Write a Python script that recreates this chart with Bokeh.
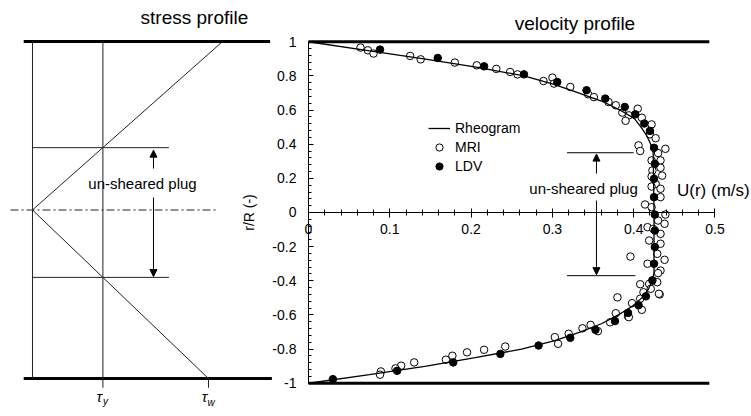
from bokeh.plotting import figure
from bokeh.models import (Range1d, LinearAxis, SingleIntervalTicker, CustomJSTickFormatter,
                          Label, Arrow, NormalHead, Legend, LegendItem)
from bokeh.embed import file_html
from bokeh.resources import INLINE

FONT = "Liberation Sans"

# ---------------- velocity profile data ----------------
rheo_r = [1.0, 0.95, 0.9, 0.85, 0.8, 0.75, 0.7, 0.65, 0.6, 0.55, 0.5, 0.45, 0.4, 0.35, 0.0,
          -0.35, -0.4, -0.45, -0.5, -0.55, -0.6, -0.65, -0.7, -0.75, -0.8, -0.85, -0.9, -0.95, -1.0]
rheo_u = [0.0, 0.071, 0.142, 0.208, 0.265, 0.302, 0.332, 0.362, 0.383, 0.401, 0.409, 0.416, 0.421, 0.424, 0.425,
          0.425, 0.423, 0.418, 0.410, 0.398, 0.381, 0.361, 0.334, 0.303, 0.262, 0.205, 0.145, 0.075, 0.0]

mri_u = [0.064, 0.073, 0.080, 0.125, 0.138, 0.180, 0.207, 0.231, 0.248, 0.257, 0.289, 0.300, 0.302,
         0.322, 0.344, 0.351, 0.369, 0.378, 0.386, 0.394, 0.405, 0.410, 0.390, 0.422, 0.420, 0.427,
         0.406, 0.408, 0.439, 0.430, 0.422, 0.433, 0.433, 0.423, 0.435, 0.422, 0.427, 0.433, 0.422,
         0.433, 0.414, 0.422, 0.439, 0.430, 0.438, 0.417, 0.424,
         0.433, 0.419, 0.433, 0.429, 0.396, 0.438, 0.417, 0.433, 0.430, 0.408, 0.423, 0.429, 0.419,
         0.412, 0.421, 0.432, 0.431, 0.408, 0.380, 0.398, 0.410, 0.378, 0.393, 0.394, 0.371, 0.347,
         0.356, 0.337, 0.320, 0.303, 0.307, 0.242, 0.216, 0.195, 0.177, 0.169, 0.130, 0.114, 0.107,
         0.089, 0.088]
mri_r = [0.966, 0.950, 0.931, 0.917, 0.897, 0.878, 0.862, 0.841, 0.823, 0.809, 0.770, 0.790, 0.755,
         0.735, 0.692, 0.676, 0.647, 0.628, 0.585, 0.569, 0.608, 0.555, 0.537, 0.516, 0.458, 0.435,
         0.393, 0.360, 0.373, 0.348, 0.305, 0.305, 0.262, 0.246, 0.216, 0.211, 0.168, 0.139, 0.152,
         0.090, 0.047, 0.031, -0.012, -0.047, -0.066, -0.086, -0.096,
         -0.125, -0.164, -0.183, -0.242, -0.258, -0.277, -0.300, -0.340, -0.355, -0.420, -0.398,
         -0.408, -0.418, -0.467, -0.447, -0.480, -0.476, -0.505, -0.497, -0.531, -0.570, -0.590,
         -0.607, -0.613, -0.643, -0.658, -0.695, -0.678, -0.710, -0.730, -0.769, -0.785, -0.804,
         -0.819, -0.839, -0.862, -0.878, -0.897, -0.913, -0.931, -0.950]

ldv_u = [0.088, 0.159, 0.216, 0.265, 0.306, 0.342, 0.365, 0.389, 0.402, 0.413, 0.420, 0.425, 0.426,
         0.425, 0.425, 0.426, 0.426, 0.426, 0.425, 0.423, 0.415, 0.406, 0.393, 0.377, 0.353, 0.322,
         0.283, 0.236, 0.178, 0.109, 0.030]
ldv_r = [0.954, 0.905, 0.856, 0.809, 0.764, 0.716, 0.667, 0.618, 0.575, 0.521, 0.478, 0.379, 0.285,
         0.197, 0.090, -0.012, -0.106, -0.202, -0.300, -0.398, -0.491, -0.543, -0.588, -0.636, -0.687,
         -0.734, -0.779, -0.828, -0.878, -0.927, -0.976]

# ---------------- stress profile schematic ----------------
tau_y = 0.40          # yield stress
tau_w = 1.00          # wall stress
tau_top = 1.08        # stress line end at upper wall (as drawn)
stress_tau = [tau_w, 0.0, tau_top]
stress_r = [-1.0, 0.0, 1.0]
plug_left = [0.37, -0.40]
plug_right = [0.35, -0.37]

p = figure(width=751, height=416,
           x_range=Range1d(-0.37884, 0.54490), y_range=Range1d(-1.19473, 1.24158),
           x_axis_type=None, y_axis_type=None, toolbar_location=None,
           output_backend="svg", min_border=0)
p.outline_line_color = None
p.background_fill_color = "white"
p.border_fill_color = "white"
p.extra_x_ranges = {"tau": Range1d(-0.181818, 4.085227)}
p.extra_y_ranges = {"rl": Range1d(-1.225519, 1.243323)}

fmt = CustomJSTickFormatter(code="return (Math.round(tick*10)/10).toString();")

yax = LinearAxis(fixed_location=0, bounds=(-1, 1),
                 ticker=SingleIntervalTicker(interval=0.2, num_minor_ticks=5),
                 formatter=fmt, axis_label="r/R (-)")
yax.major_tick_in = 5
yax.major_tick_out = 0
yax.minor_tick_in = 3
yax.minor_tick_out = 0
yax.major_label_standoff = 12
yax.axis_label_standoff = 12
yax.major_label_text_font = FONT
yax.major_label_text_font_size = "14px"
yax.axis_label_text_font = FONT
yax.axis_label_text_font_size = "14px"
yax.axis_label_text_font_style = "normal"
for a in ("axis_line_color", "major_tick_line_color", "minor_tick_line_color", "major_label_text_color", "axis_label_text_color"):
    setattr(yax, a, "black")
p.add_layout(yax, "left")

xax = LinearAxis(fixed_location=0, bounds=(0, 0.5),
                 ticker=SingleIntervalTicker(interval=0.1, num_minor_ticks=5),
                 formatter=fmt)
xax.major_tick_in = 4
xax.major_tick_out = 5
xax.minor_tick_in = 3
xax.minor_tick_out = 3
xax.major_label_standoff = 7
xax.major_label_text_font = FONT
xax.major_label_text_font_size = "14px"
for a in ("axis_line_color", "major_tick_line_color", "minor_tick_line_color", "major_label_text_color"):
    setattr(xax, a, "black")
p.add_layout(xax, "below")

TXT = dict(text_font=FONT, text_color="black", text_align="center", text_baseline="middle")

# ---------- left panel: stress profile ----------
L = dict(x_range_name="tau", y_range_name="rl")
p.segment(x0=[-0.05, -0.05], y0=[1, -1], x1=[1.35, 1.36], y1=[1, -1], line_color="black", line_width=3, **L)
p.segment(x0=[0.0], y0=[-1], x1=[0.0], y1=[1], line_color="#222222", line_width=1, **L)
p.segment(x0=[tau_y, tau_w], y0=[1, -1], x1=[tau_y, tau_w], y1=[-1.055, -1.055], line_color="#222222", line_width=1, **L)
p.line(stress_tau, stress_r, line_color="#222222", line_width=1, **L)
p.segment(x0=[0.0, 0.0], y0=plug_left, x1=[0.775, 0.775], y1=plug_left, line_color="#222222", line_width=1, **L)
p.segment(x0=[-0.125], y0=[0.0], x1=[1.057], y1=[0.0], line_color="#222222", line_width=1, line_dash="8 3 2 3", **L)

head = dict(size=7, fill_color="black", line_color="black")
p.add_layout(Arrow(end=NormalHead(**head), x_start=0.6875, y_start=0.246, x_end=0.6875, y_end=0.355,
                   line_width=1, line_color="black", **L))
p.add_layout(Arrow(end=NormalHead(**head), x_start=0.6875, y_start=0.074, x_end=0.6875, y_end=-0.395,
                   line_width=1, line_color="black", **L))
p.add_layout(Label(x=0.625, y=0.16, text="un-sheared plug", text_font_size="15px", **TXT, **L))
p.add_layout(Label(x=0.92, y=1.14, text="stress profile", text_font_size="19px", **TXT, **L))
p.add_layout(Label(x=0.38, y=-1.105, text="τ", text_font_size="15px", text_font_style="italic", **TXT, **L))
p.add_layout(Label(x=0.415, y=-1.135, text="y", text_font_size="10px", text_font_style="italic", **TXT, **L))
p.add_layout(Label(x=0.977, y=-1.105, text="τ", text_font_size="15px", text_font_style="italic", **TXT, **L))
p.add_layout(Label(x=1.015, y=-1.14, text="w", text_font_size="10px", text_font_style="italic", **TXT, **L))

# ---------- right panel: velocity profile ----------
p.segment(x0=[0, 0], y0=[1, -1], x1=[0.493, 0.493], y1=[1, -1], line_color="black", line_width=3)
p.segment(x0=[0.318, 0.318], y0=plug_right, x1=[0.40, 0.402], y1=plug_right, line_color="black", line_width=1)
p.add_layout(Arrow(end=NormalHead(**head), x_start=0.3542, y_start=0.228, x_end=0.3542, y_end=0.342,
                   line_width=1, line_color="black"))
p.add_layout(Arrow(end=NormalHead(**head), x_start=0.3542, y_start=0.07, x_end=0.3542, y_end=-0.364,
                   line_width=1, line_color="black"))
p.add_layout(Label(x=0.3383, y=0.1406, text="un-sheared plug", text_font_size="15px", **TXT))
p.add_layout(Label(x=0.498, y=0.129, text="U(r) (m/s)", text_font_size="17px", **TXT))
p.add_layout(Label(x=0.3278, y=1.107, text="velocity profile", text_font_size="19px", **TXT))

r_mri = p.scatter(mri_u, mri_r, marker="circle", size=7.5, fill_color="white", line_color="black", line_width=1)
r_ldv = p.scatter(ldv_u, ldv_r, marker="circle", size=7.5, fill_color="black", line_color="black", line_width=1)
r_rheo = p.line(rheo_u, rheo_r, line_color="black", line_width=1.3)

legend = Legend(items=[LegendItem(label="Rheogram", renderers=[r_rheo]),
                       LegendItem(label="MRI", renderers=[r_mri]),
                       LegendItem(label="LDV", renderers=[r_ldv])],
                location=(428, 241), glyph_width=22, glyph_height=18, label_height=18, spacing=1,
                padding=10, label_standoff=5, label_text_font=FONT, label_text_font_size="14px",
                label_text_color="black", background_fill_alpha=0, border_line_color=None)
p.add_layout(legend, "center")

open("out.html", "w").write(file_html(p, INLINE))
